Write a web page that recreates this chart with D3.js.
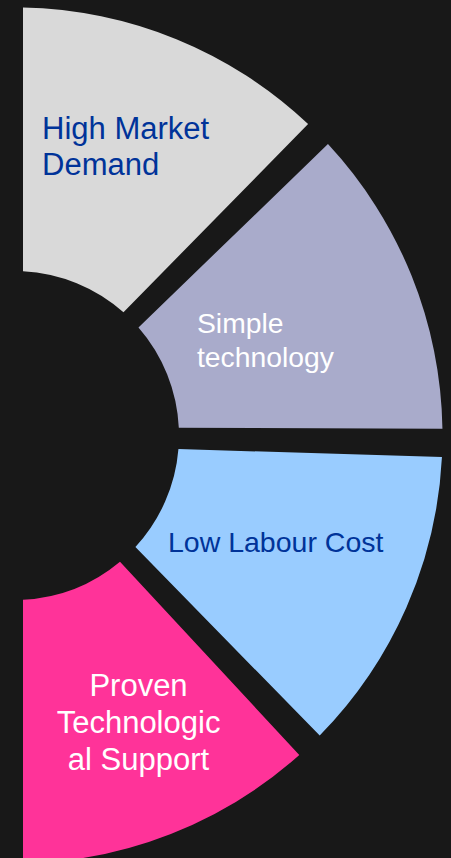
<!DOCTYPE html>
<html>
<head>
<meta charset="utf-8">
<script src="https://cdn.jsdelivr.net/npm/d3@7/dist/d3.min.js"></script>
<style>
  html, body { margin: 0; padding: 0; background: #181818; }
  svg { display: block; }
</style>
</head>
<body>
<svg id="chart" width="451" height="858"></svg>
<script>
// ---- data (segment sweep, degrees) ----
const categories = ["High Market Demand", "Simple technology", "Low Labour Cost", "Proven Technological Support"];
const values = [45.2, 45.8, 45.4, 43.6];
const labelLines = [["High Market", "Demand"], ["Simple", "technology"], ["Low Labour Cost"], ["Proven", "Technologic", "al Support"]];

// ---- styles ----
const fills = ["#d9d9d9", "#a9abcb", "#99ccff", "#ff3399"];
const textColors = ["#003399", "#ffffff", "#003399", "#ffffff"];
const fontSizes = [31, 28.3, 28.5, 31];
const lineHeights = [36, 34, 34, 37];
const anchors = ["start", "start", "start", "middle"];
const labelOffsets = [[-86.3, -23], [-92.4, 8], [-117.8, -2.6], [14, -14.6]];

const W = 451, H = 858;
const cx = 14.5, cy = 435.5;
const r0 = 164.5, r1 = 428;
const gapHalf = 0.75 * Math.PI / 180;
const padLinear = 8.5;

const svg = d3.select("#chart");
svg.append("rect").attr("width", W).attr("height", H).attr("fill", "#181818");

const pie = d3.pie().value(d => d).sort(null).startAngle(0).endAngle(Math.PI);
const arcs = pie(values);
const n = arcs.length;

const arc = d3.arc()
  .innerRadius(r0)
  .outerRadius(r1)
  .startAngle(d => d.startAngle + (d.index === 0 ? 0 : gapHalf))
  .endAngle(d => d.endAngle - (d.index === n - 1 ? 0 : gapHalf))
  .padRadius(100)
  .padAngle(2 * Math.asin(padLinear / 100));

const g = svg.append("g").attr("transform", `translate(${cx},${cy})`);

g.selectAll("path.seg")
  .data(arcs)
  .join("path")
  .attr("class", "seg")
  .attr("d", arc)
  .attr("fill", (d, i) => fills[i]);

const centroidArc = d3.arc().innerRadius(r0).outerRadius(r1);

g.selectAll("text.lbl")
  .data(arcs)
  .join("text")
  .attr("class", "lbl")
  .attr("font-family", "'Liberation Sans', Arial, sans-serif")
  .attr("font-size", (d, i) => fontSizes[i])
  .attr("fill", (d, i) => textColors[i])
  .attr("text-anchor", (d, i) => anchors[i])
  .each(function (d, i) {
    const c = centroidArc.centroid(d);
    const x = c[0] + labelOffsets[i][0];
    const y = c[1] + labelOffsets[i][1];
    d3.select(this).selectAll("tspan")
      .data(labelLines[i])
      .join("tspan")
      .attr("x", x)
      .attr("y", (t, j) => y + j * lineHeights[i])
      .text(t => t);
  });
</script>
</body>
</html>
